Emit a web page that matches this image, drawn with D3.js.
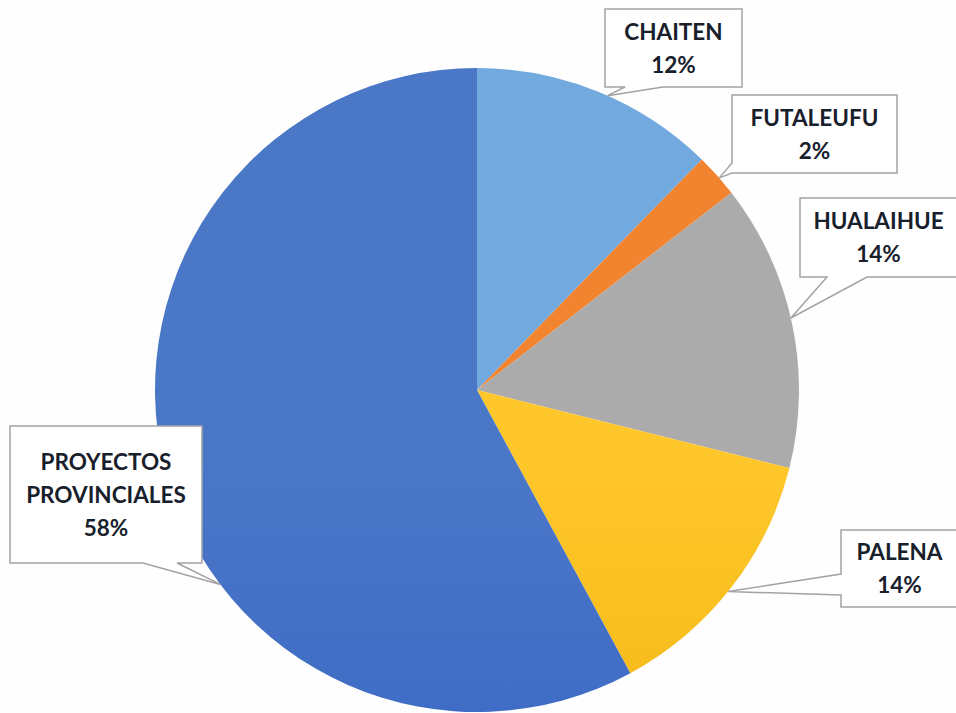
<!DOCTYPE html>
<html lang="es">
<head>
  <meta charset="UTF-8">
  <title>Distribución por comuna</title>
  <style>
    body {
      margin: 0;
      padding: 0;
      background: #fefefe;
    }
    svg {
      display: block;
    }
    .callout path {
      fill: #ffffff;
      stroke: #a3a3a3;
      stroke-width: 1.5;
    }
    .callout text {
      font-family: Lato, "Open Sans", sans-serif;
      font-weight: 700;
      font-size: 22.5px;
      fill: #18202c;
      text-anchor: middle;
    }
  </style>
</head>
<body>
  <div id="chart"></div>
  <script src="https://d3js.org/d3.v7.min.js"></script>
  <script>
    // data
    const categories = ["CHAITEN", "FUTALEUFU", "HUALAIHUE", "PALENA", "PROYECTOS PROVINCIALES"];
    const values = [12.3, 2.2, 14.4, 13.2, 57.9];
    const percentLabels = ["12%", "2%", "14%", "14%", "58%"];

    // slice colours (top, bottom of gradient)
    const colorsTop = ["#72a9de", "#f2832f", "#ababab", "#ffc72a", "#4b77c7"];
    const colorsBottom = ["#468dd6", "#e66f18", "#999999", "#e4a900", "#2d5ec3"];

    // callout boxes: layout only
    const callouts = [
      { x: 605, y: 9, w: 137, h: 78, side: "bottom", a: 625, b: 663, frac: 0.54, lines: ["CHAITEN"] },
      { x: 732, y: 95, w: 165, h: 78, side: "left", a: 163, b: 173, frac: 0.57, lines: ["FUTALEUFU"] },
      { x: 800, y: 198, w: 157, h: 79, side: "bottom", a: 827, b: 867, frac: 0.48, lines: ["HUALAIHUE"] },
      { x: 841, y: 530, w: 117, h: 77, side: "left", a: 574, b: 595, frac: 0.52, lines: ["PALENA"] },
      { x: 10, y: 426, w: 192, h: 137, side: "bottom", a: 143, b: 177, frac: 0.39, lines: ["PROYECTOS", "PROVINCIALES"] }
    ];

    const width = 956;
    const height = 713;
    const cx = 477, cy = 390, radius = 322;
    const lineH = 33;

    const svg = d3.select("#chart")
      .append("svg")
      .attr("width", width)
      .attr("height", height);

    const defs = svg.append("defs");
    categories.forEach((c, i) => {
      const grad = defs.append("linearGradient")
        .attr("id", "g" + i)
        .attr("gradientUnits", "userSpaceOnUse")
        .attr("x1", 0).attr("y1", cy - radius)
        .attr("x2", 0).attr("y2", cy + radius);
      grad.append("stop").attr("offset", "0%").attr("stop-color", colorsTop[i]);
      grad.append("stop").attr("offset", "100%").attr("stop-color", colorsBottom[i]);
    });

    const pie = d3.pie().sort(null).value(d => d);
    const arcs = pie(values);
    const arc = d3.arc().innerRadius(0).outerRadius(radius);

    const g = svg.append("g").attr("transform", `translate(${cx},${cy})`);

    g.selectAll("path.slice")
      .data(arcs)
      .enter()
      .append("path")
      .attr("class", "slice")
      .attr("d", arc)
      .attr("fill", (d, i) => `url(#g${i})`);

    // callout path: rectangle with a wedge pointing at the slice edge
    function calloutPath(c, tip) {
      const x0 = c.x, y0 = c.y, x1 = c.x + c.w, y1 = c.y + c.h;
      const p = d3.path();
      if (c.side === "bottom") {
        p.moveTo(x0, y0);
        p.lineTo(x1, y0);
        p.lineTo(x1, y1);
        p.lineTo(c.b, y1);
        p.lineTo(tip[0], tip[1]);
        p.lineTo(c.a, y1);
        p.lineTo(x0, y1);
      } else {
        p.moveTo(x0, y0);
        p.lineTo(x1, y0);
        p.lineTo(x1, y1);
        p.lineTo(x0, y1);
        p.lineTo(x0, c.b);
        p.lineTo(tip[0], tip[1]);
        p.lineTo(x0, c.a);
      }
      p.closePath();
      return p.toString();
    }

    const labels = svg.selectAll("g.callout")
      .data(callouts)
      .enter()
      .append("g")
      .attr("class", "callout");

    labels.append("path")
      .attr("d", (c, i) => {
        const s = arcs[i];
        const ang = s.startAngle + (s.endAngle - s.startAngle) * c.frac;
        const tip = [cx + radius * Math.sin(ang), cy - radius * Math.cos(ang)];
        return calloutPath(c, tip);
      });

    labels.each(function (c, i) {
      const lines = c.lines.concat([percentLabels[i]]);
      const midY = c.y + c.h / 2;
      const first = midY - (lines.length - 1) / 2 * lineH + 8;
      d3.select(this).selectAll("text")
        .data(lines)
        .enter()
        .append("text")
        .attr("x", c.x + c.w / 2)
        .attr("y", (d, j) => first + j * lineH)
        .text(d => d);
    });
  </script>
</body>
</html>
